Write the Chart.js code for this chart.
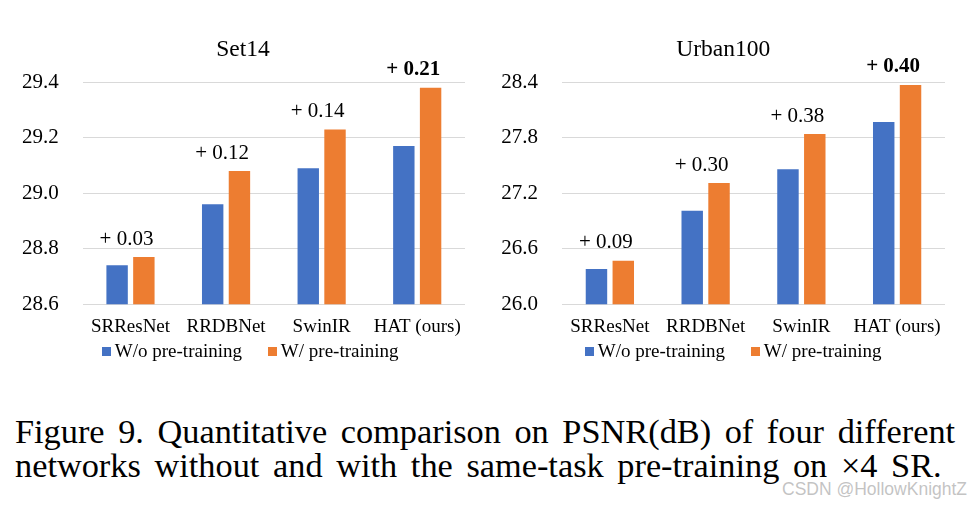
<!DOCTYPE html>
<html>
<head>
<meta charset="utf-8">
<script src="https://cdn.jsdelivr.net/npm/chart.js@4.4.1/dist/chart.umd.min.js"></script>
<style>
	html, body { margin: 0; padding: 0; background: #fff; }
	body { width: 974px; height: 508px; position: relative; overflow: hidden; font-family: 'Liberation Serif', 'Times New Roman', serif; color: #000; }
	.chart-box { position: absolute; top: 0; height: 372px; }
	.chart-box canvas { display: block; }
	.legend-list { position: absolute; top: 341px; left: 0; right: 0; margin: 0; padding: 0; list-style: none; display: flex; justify-content: center; }
	.legend-element { display: flex; align-items: center; margin: 0 12.8px; font-size: 19px; line-height: 20px; }
	.legend-element-color { display: inline-block; width: 9px; height: 9px; margin-right: 4.3px; }
	.legend-element-text { margin: 0; white-space: nowrap; }
	.caption { position: absolute; left: 15px; font-size: 33px; line-height: 35px; white-space: nowrap; text-align: justify; text-align-last: justify; transform: scaleX(1.04); transform-origin: left top; }
	.watermark { position: absolute; left: 782px; top: 481px; font-family: 'Liberation Sans', sans-serif; font-size: 17.5px; line-height: 17px; color: rgba(185, 185, 185, 0.85); white-space: nowrap; }
</style>
</head>
<body>
<div class="chart-box" id="box-set14" style="left:0; width:500px;">
	<canvas id="set14Chart" width="500" height="352"></canvas>
	<div class="legend-host"></div>
</div>
<div class="chart-box" id="box-urban" style="left:492px; width:482px;">
	<canvas id="urbanChart" width="482" height="352"></canvas>
	<div class="legend-host"></div>
</div>

<div class="caption" style="top:415px; width:904px;">Figure 9. Quantitative comparison on PSNR(dB) of four different</div>
<div class="caption" style="top:449px; width:891px;">networks without and with the same-task pre-training on ×4 SR.</div>
<div class="watermark">CSDN @HollowKnightZ</div>

<script>
// networks on the x axis
const networks = ['SRResNet', 'RRDBNet', 'SwinIR', 'HAT (ours)'];
const seriesNames = ['W/o pre-training', 'W/ pre-training'];

// Set14 PSNR (dB)
const set14Without = [28.74, 28.96, 29.09, 29.17];
const set14With = [28.77, 29.08, 29.23, 29.38];
const set14Gain = ['+ 0.03', '+ 0.12', '+ 0.14', '+ 0.21'];
const set14Ticks = [28.6, 28.8, 29.0, 29.2, 29.4];

// Urban100 PSNR (dB)
const urbanWithout = [26.38, 27.01, 27.46, 27.97];
const urbanWith = [26.47, 27.31, 27.84, 28.37];
const urbanGain = ['+ 0.09', '+ 0.30', '+ 0.38', '+ 0.40'];
const urbanTicks = [26.0, 26.6, 27.2, 27.8, 28.4];

const BLUE = '#4472C4';
const ORANGE = '#ED7D31';
const SERIF = "'Liberation Serif', 'Times New Roman', serif";

// writes the "+ 0.xx" gain above each pair of bars
const gainLabels = {
	id: 'gainLabels',
	afterDatasetsDraw(chart, args, options) {
		const {ctx} = chart;
		const blueMeta = chart.getDatasetMeta(0);
		const orangeMeta = chart.getDatasetMeta(1);

		ctx.save();
		ctx.fillStyle = '#000';
		ctx.textAlign = 'center';
		ctx.textBaseline = 'middle';
		options.gains.forEach((text, i) => {
			const blueBar = blueMeta.data[i];
			const orangeBar = orangeMeta.data[i];
			const x = (blueBar.x + orangeBar.x) / 2 - 4;
			const y = orangeBar.y - 18;
			// the last network (ours) is written in bold
			const bold = i === options.gains.length - 1;
			ctx.font = (bold ? 'bold ' : '') + '21px ' + SERIF;
			ctx.fillText(text, x, y);
		});
		ctx.restore();
	}
};

// legend built as html under the canvas
const htmlLegendPlugin = {
	id: 'htmlLegend',
	afterUpdate(chart) {
		const legendContainer = chart.canvas.parentNode.querySelector('.legend-host');
		let listContainer = legendContainer.querySelector('ul');
		if (!listContainer) {
			listContainer = document.createElement('ul');
			listContainer.className = 'legend-list';
			legendContainer.appendChild(listContainer);
		}
		while (listContainer.firstChild) {
			listContainer.firstChild.remove();
		}

		const items = chart.options.plugins.legend.labels.generateLabels(chart);
		items.forEach(item => {
			const legendElement = document.createElement('li');
			legendElement.className = 'legend-element';

			const legendElementColor = document.createElement('span');
			legendElementColor.className = 'legend-element-color';
			legendElementColor.style.backgroundColor = item.fillStyle;

			const legendElementText = document.createElement('p');
			legendElementText.className = 'legend-element-text';
			legendElementText.appendChild(document.createTextNode(item.text));

			legendElement.appendChild(legendElementColor);
			legendElement.appendChild(legendElementText);
			listContainer.appendChild(legendElement);
		});
	}
};

function makeChart(canvasId, title, without, withPre, gains, ticks, padLeft, padRight, axisWidth) {
	const step = +(ticks[1] - ticks[0]).toFixed(2);
	return new Chart(document.getElementById(canvasId), {
		type: 'bar',
		data: {
			labels: networks,
			datasets: [
				{ label: seriesNames[0], data: without, backgroundColor: BLUE },
				{ label: seriesNames[1], data: withPre, backgroundColor: ORANGE }
			]
		},
		options: {
			responsive: false,
			animation: false,
			layout: { padding: { left: padLeft, right: padRight, top: 0, bottom: 3 } },
			datasets: {
				bar: { categoryPercentage: 0.56, barPercentage: 0.8 }
			},
			scales: {
				x: {
					grid: { display: false, drawTicks: false },
					border: { display: false },
					ticks: {
						color: '#000',
						padding: 11,
						maxRotation: 0,
						autoSkip: false,
						font: { family: SERIF, size: 19 }
					}
				},
				y: {
					min: ticks[0],
					max: ticks[ticks.length - 1],
					afterFit(scale) { scale.width = axisWidth; },
					grid: { color: '#d9d9d9', lineWidth: 1, drawTicks: false },
					border: { display: false },
					ticks: {
						stepSize: step,
						color: '#000',
						padding: 24,
						font: { family: SERIF, size: 21 },
						callback: (v) => Number(v).toFixed(1)
					}
				}
			},
			plugins: {
				legend: { display: false },
				tooltip: { enabled: false },
				title: {
					display: true,
					text: title,
					color: '#000',
					font: { family: SERIF, size: 23.5, weight: 'normal' },
					padding: { top: 36, bottom: 18 }
				},
				gainLabels: { gains: gains }
			}
		},
		plugins: [gainLabels, htmlLegendPlugin]
	});
}

makeChart('set14Chart', 'Set14', set14Without, set14With, set14Gain, set14Ticks, 21, 35, 61.7);
makeChart('urbanChart', 'Urban100', urbanWithout, urbanWith, urbanGain, urbanTicks, 9.5, 29, 60.5);
</script>
</body>
</html>
